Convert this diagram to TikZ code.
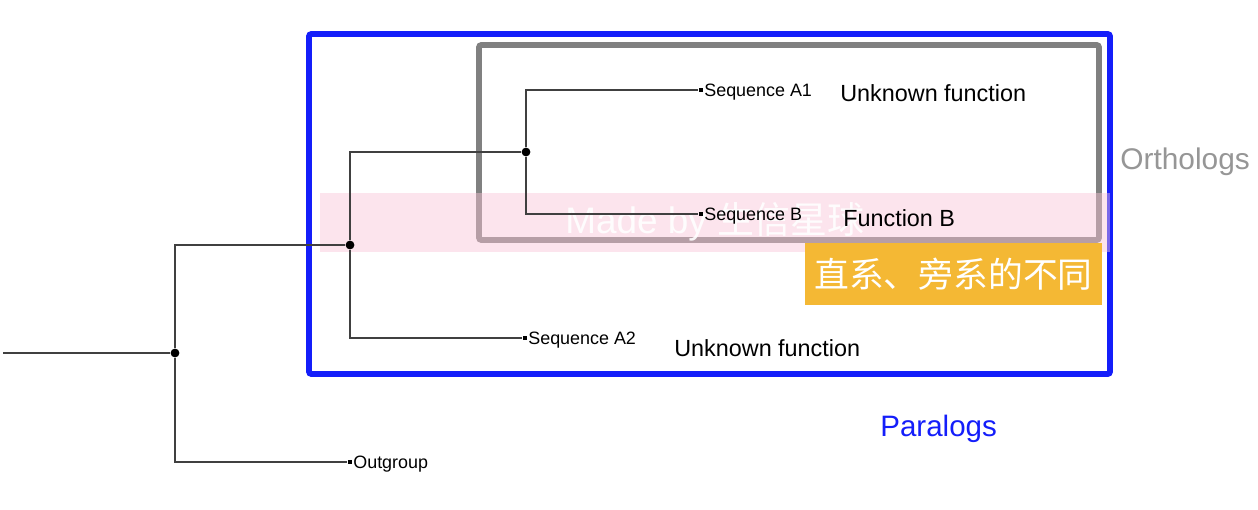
\documentclass[tikz,border=0pt]{standalone}
\usepackage{fontspec}
\setmainfont{Liberation Sans}
\newfontfamily\cjk{Noto Sans CJK SC}
\usepackage{tikz}
\usetikzlibrary{shapes.geometric, backgrounds}
\definecolor{parablue}{RGB}{20,30,250}
\definecolor{orthogray}{RGB}{128,128,128}
\definecolor{orthotext}{RGB}{150,150,150}
\definecolor{noteorange}{RGB}{244,184,52}
\definecolor{bandpink}{RGB}{248,196,214}
\tikzstyle{inner} = [circle, fill=black, inner sep=0pt, minimum size=5pt]
\tikzstyle{tip} = [rectangle, fill=black, inner sep=0pt, minimum size=2.8pt]
\tikzstyle{leaf} = [anchor=west, inner sep=0pt, font=\fontsize{10.2}{12}\selectfont]
\tikzstyle{func} = [anchor=base west, inner sep=0pt, font=\fontsize{13.3}{16}\selectfont]
\tikzstyle{branch} = [draw=black!75, line width=0.8pt]
\tikzstyle{groupbox} = [line width=3.4pt, rounded corners=1.5pt]

\begin{document}
\begin{tikzpicture}[x=0.02cm, y=-0.02cm]
    \useasboundingbox (0,0) rectangle (1258,510);

        % boxes
        \draw [groupbox, draw=parablue] (309,34) rectangle (1110,374);
        \draw [groupbox, draw=orthogray] (479,45) rectangle (1099,240);

        % watermark
        \fill [bandpink, opacity=0.45] (320,193) rectangle (1110,252);
        \node (watermark) [text=white, opacity=0.9, font=\fontsize{21}{24}\selectfont] at (715,222) {Made by {\cjk 生信星球}};

        % nodes
        \coordinate (root) at (3,353);
        \node (n1) [inner] at (175,353) {};
        \node (n2) [inner] at (350,245) {};
        \node (n3) [inner] at (526,152) {};
        \node (tipA1) [tip] at (701,90) {};
        \node (tipB) [tip] at (701,214) {};
        \node (tipA2) [tip] at (525,338) {};
        \node (tipOut) [tip] at (350,462) {};
        \node (seqA1) [leaf] at (704,92) {Sequence A1};
        \node (seqB) [leaf] at (704,216) {Sequence B};
        \node (seqA2) [leaf] at (528,340) {Sequence A2};
        \node (outgroup) [leaf] at (353,464) {Outgroup};
        \node (funcA1) [func] at (840,102) {Unknown function};
        \node (funcB) [func] at (843,226) {Function B};
        \node (funcA2) [func] at (674,356) {Unknown function};
        \node (orthologs) [anchor=base west, inner sep=0pt, text=orthotext, font=\fontsize{17}{20}\selectfont] at (1120,170) {Orthologs};
        \node (paralogs) [anchor=base west, inner sep=0pt, text=parablue, font=\fontsize{16.8}{20}\selectfont] at (880,436) {Paralogs};

        % edges
        \draw [branch] (root) -- (n1);
        \draw [branch] (n1) |- (n2);
        \draw [branch] (n1) |- (tipOut);
        \draw [branch] (n2) |- (n3);
        \draw [branch] (n2) |- (tipA2);
        \draw [branch] (n3) |- (tipA1);
        \draw [branch] (n3) |- (tipB);

        % note
        \node (diffnote) [rectangle, fill=noteorange, text=white, minimum width=5.94cm, minimum height=1.24cm, inner sep=0pt, font=\cjk\fontsize{19.8}{24}\selectfont] at (953.5,274) {直系、旁系的不同};

    \end{tikzpicture}
\end{document}
